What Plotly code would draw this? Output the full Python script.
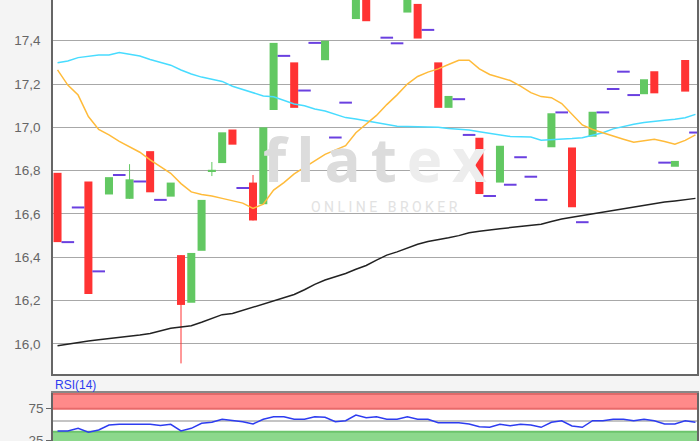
import plotly.graph_objects as go

#________ chart data ________#
slots = list(range(63))

open_px = [16.79, 16.47, 16.63, 16.75, 16.335, 16.69, 16.78, 16.67, 16.75, 16.89,
           16.665, 16.68, 16.41, 16.19, 16.43, 16.796, 16.835, 16.99, 16.72, 16.745,
           16.645, 17.08, 17.33, 17.30, 17.17, 17.39, 17.31, 16.953, 17.114, 17.50,
           17.65, 17.63, 17.414, 17.388, 17.53, 17.57, 17.45, 17.30, 17.09, 17.13,
           16.965, 16.952, 16.683, 16.745, 16.735, 16.862, 16.772, 16.665, 16.908, 17.069,
           16.907, 16.562, 16.957, 17.069, 17.177, 17.257, 17.149, 17.153, 17.259, 16.837,
           16.818, 17.311, 16.976]

close_px = [16.47, 16.47, 16.63, 16.23, 16.335, 16.77, 16.78, 16.76, 16.75, 16.70,
            16.665, 16.745, 16.18, 16.42, 16.665, 16.804, 16.977, 16.92, 16.72, 16.57,
            17.00, 17.39, 17.33, 17.09, 17.17, 17.39, 17.40, 16.953, 17.114, 17.66,
            17.49, 17.63, 17.414, 17.388, 17.66, 17.41, 17.45, 17.09, 17.145, 17.13,
            16.965, 16.692, 16.683, 16.915, 16.735, 16.862, 16.772, 16.665, 17.065, 17.069,
            16.631, 16.562, 17.072, 17.069, 17.177, 17.257, 17.149, 17.222, 17.157, 16.837,
            16.845, 17.165, 16.976]

# only the candles with a visible wick differ from max/min of open/close
wick_high = {7: 16.83, 12: 16.41, 15: 16.84, 19: 16.78}
wick_low = {12: 15.91, 15: 16.775}

ma_fast = [17.265, 17.195, 17.149, 17.05, 16.99, 16.965, 16.935, 16.91, 16.885, 16.85,
           16.82, 16.788, 16.74, 16.702, 16.69, 16.683, 16.672, 16.66, 16.65, 16.626,
           16.645, 16.71, 16.745, 16.785, 16.813, 16.845, 16.875, 16.895, 16.915, 16.975,
           17.015, 17.055, 17.105, 17.15, 17.20, 17.235, 17.255, 17.27, 17.29, 17.31,
           17.31, 17.27, 17.244, 17.23, 17.216, 17.19, 17.16, 17.142, 17.137, 17.11,
           17.06, 17.011, 16.99, 16.975, 16.957, 16.945, 16.931, 16.937, 16.945, 16.935,
           16.922, 16.94, 16.965]

ma_mid = [17.298, 17.306, 17.322, 17.329, 17.334, 17.334, 17.346, 17.337, 17.329, 17.313,
          17.30, 17.287, 17.265, 17.246, 17.232, 17.223, 17.212, 17.19, 17.176, 17.16,
          17.145, 17.141, 17.125, 17.108, 17.10, 17.085, 17.075, 17.06, 17.045, 17.038,
          17.03, 17.02, 17.012, 17.005, 17.004, 17.003, 17.003, 17.0, 16.995, 16.993,
          16.988, 16.98, 16.972, 16.965, 16.958, 16.957, 16.955, 16.94, 16.942, 16.945,
          16.948, 16.952, 16.963, 16.975, 16.993, 17.005, 17.014, 17.022, 17.029, 17.033,
          17.037, 17.044, 17.06]

ma_slow = [15.992, 16.0, 16.007, 16.013, 16.019, 16.024, 16.029, 16.035, 16.041, 16.048,
           16.06, 16.072, 16.078, 16.084, 16.10, 16.118, 16.135, 16.14, 16.155, 16.17,
           16.185, 16.198, 16.213, 16.228, 16.25, 16.275, 16.295, 16.31, 16.325, 16.345,
           16.362, 16.387, 16.41, 16.425, 16.442, 16.46, 16.473, 16.48, 16.49, 16.50,
           16.513, 16.52, 16.527, 16.532, 16.537, 16.542, 16.546, 16.553, 16.565, 16.577,
           16.585, 16.593, 16.602, 16.608, 16.617, 16.625, 16.632, 16.64, 16.647, 16.655,
           16.66, 16.666, 16.672]

rsi = [39.4, 39.4, 43.7, 37.3, 41.0, 49.0, 50.1, 50.1, 50.1, 50.1,
       48.0, 50.1, 39.4, 43.7, 51.7, 53.3, 58.1, 55.8, 54.2, 50.6,
       58.1, 62.2, 62.2, 58.1, 58.1, 62.2, 61.3, 54.2, 55.8, 64.9,
       60.6, 62.2, 58.1, 58.1, 62.2, 58.1, 58.1, 52.6, 52.6, 52.6,
       50.6, 46.2, 45.3, 50.1, 47.8, 50.1, 49.0, 45.3, 53.3, 55.8,
       47.4, 45.3, 55.8, 55.8, 58.1, 58.1, 55.8, 58.1, 55.8, 50.6,
       50.6, 55.8, 53.3]

price_ticks = [16.0, 16.2, 16.4, 16.6, 16.8, 17.0, 17.2, 17.4, 17.6]
rsi_ticks = [25, 75]

UP = "#62c862"
DOWN = "#ff3333"
FLAT = "#6a40e0"


#________ split candles into bodies, wicks and flat dashes ________#
body_x, body_base, body_h, body_col = [], [], [], []
flat_x, flat_y = [], []
wick_up_x, wick_up_y, wick_dn_x, wick_dn_y = [], [], [], []

for i in slots:
    o, c = open_px[i], close_px[i]
    if o == c and i not in wick_high and i not in wick_low:
        flat_x.append(i)
        flat_y.append(o)
        continue
    body_x.append(i)
    body_base.append(min(o, c))
    body_h.append(abs(c - o))
    body_col.append(UP if c > o else DOWN)
    hi = wick_high.get(i, max(o, c))
    lo = wick_low.get(i, min(o, c))
    if hi > max(o, c) or lo < min(o, c):
        if c > o:
            wick_up_x += [i, i, None]
            wick_up_y += [lo, hi, None]
        else:
            wick_dn_x += [i, i, None]
            wick_dn_y += [lo, hi, None]


fig = go.Figure()

fig.add_trace(go.Scatter(x=wick_up_x, y=wick_up_y, mode="lines",
                         line=dict(color=UP, width=1), hoverinfo="skip"))
fig.add_trace(go.Scatter(x=wick_dn_x, y=wick_dn_y, mode="lines",
                         line=dict(color=DOWN, width=1), hoverinfo="skip"))
fig.add_trace(go.Bar(x=body_x, y=body_h, base=body_base, width=0.78,
                     marker=dict(color=body_col, line=dict(width=0))))
fig.add_trace(go.Scatter(x=flat_x, y=flat_y, mode="markers",
                         marker=dict(symbol="line-ew", size=9,
                                     line=dict(color=FLAT, width=2))))

fig.add_trace(go.Scatter(x=slots, y=ma_mid, mode="lines", line=dict(color="#48dcff", width=1.5)))
fig.add_trace(go.Scatter(x=slots, y=ma_fast, mode="lines", line=dict(color="#ffbb3a", width=1.5)))
fig.add_trace(go.Scatter(x=slots, y=ma_slow, mode="lines", line=dict(color="#222222", width=1.5)))

fig.add_trace(go.Scatter(x=slots, y=rsi, mode="lines", xaxis="x2", yaxis="y2",
                         line=dict(color="#2d3cf0", width=1.5)))

# RSI zones
fig.add_shape(type="rect", xref="x2 domain", yref="y2", x0=0, x1=1, y0=75, y1=100.6,
              fillcolor="#ff8a8a", line_width=0, layer="below")
fig.add_shape(type="line", xref="x2 domain", yref="y2", x0=0, x1=1, y0=75, y1=75,
              line=dict(color="#e86a6a", width=2), layer="below")
fig.add_shape(type="line", xref="x2 domain", yref="y2", x0=0, x1=1, y0=99.2, y1=99.2,
              line=dict(color="#e06a6a", width=3), layer="below")
fig.add_shape(type="rect", xref="x2 domain", yref="y2", x0=0, x1=1, y0=20, y1=38.6,
              fillcolor="#8cd88c", line_width=0, layer="below")
fig.add_shape(type="line", xref="x2 domain", yref="y2", x0=0, x1=1, y0=38.2, y1=38.2,
              line=dict(color="#6cc46c", width=2), layer="below")
fig.add_shape(type="line", xref="x2 domain", yref="y2", x0=0, x1=1, y0=55.4, y1=55.4,
              line=dict(color="#b0b0b0", width=1.5), layer="below")

# watermark (fixed box heights so the two lines do not collide)
fig.add_annotation(xref="paper", yref="paper", x=0.5, y=0.6395, xanchor="center", yanchor="middle",
                   height=50, valign="middle",
                   text="<span style='color:#dcdcdc'>f\u2009l\u2009a\u2009t</span>\u2009"
                        "<span style='color:#ededed'>e\u2009x</span>",
                   showarrow=False, font=dict(family="Open Sans", size=60, weight=700))
fig.add_annotation(xref="paper", yref="paper", x=0.514, y=0.531, xanchor="center", yanchor="middle",
                   height=18, valign="middle",
                   text="O N L I N E   B R O K E R", showarrow=False,
                   font=dict(family="Roboto", size=14, color="#e2e2e2"))

fig.add_annotation(xref="paper", yref="paper", x=0, y=0.127, xanchor="left", yanchor="middle",
                   text="RSI(14)", showarrow=False,
                   font=dict(family="Liberation Sans", size=12, color="#2d3cf0"))

axis_font = dict(family="Liberation Sans", size=13.5, color="#666666")

fig.update_layout(
    width=700, height=441,
    margin=dict(l=53, r=3, t=0, b=0, autoexpand=False),
    paper_bgcolor="#f4f4f4",
    plot_bgcolor="#ffffff",
    showlegend=False,
    separators=",.",
    barmode="overlay",
    xaxis=dict(range=[-0.44, 62.15], showticklabels=False, showgrid=False, zeroline=False,
               showline=True, linecolor="#666666", linewidth=1.5, mirror=True, ticks="",
               automargin=False),
    yaxis=dict(domain=[0.1519, 1], range=[15.861, 17.588], tickvals=price_ticks,
               tickformat=".1f", tickfont=axis_font, ticks="outside", ticklen=8,
               tickcolor="rgba(0,0,0,0)", gridcolor="#a8a8a8", gridwidth=1.2, automargin=False,
               zeroline=False, showline=True, linecolor="#666666", linewidth=1.5, mirror=True),
    xaxis2=dict(anchor="y2", range=[-0.44, 62.15], showticklabels=False, showgrid=False,
                automargin=False,
                zeroline=False, showline=True, linecolor="#888888", linewidth=1.5, mirror=True),
    yaxis2=dict(domain=[0, 0.1095], range=[23.4, 100.6], tickvals=rsi_ticks, anchor="x2",
                tickfont=axis_font, ticks="outside", ticklen=5, tickcolor="#666666",
                ticklabeloverflow="allow", automargin=False,
                showgrid=False, zeroline=False, showline=True, linecolor="#666666",
                linewidth=1.5, mirror=True),
)

# the page body has a default 8px margin; drop it so the figure fills the window
fig.write_html("out.html", config={"displayModeBar": False},
               post_script="document.body.style.margin='0px';")
